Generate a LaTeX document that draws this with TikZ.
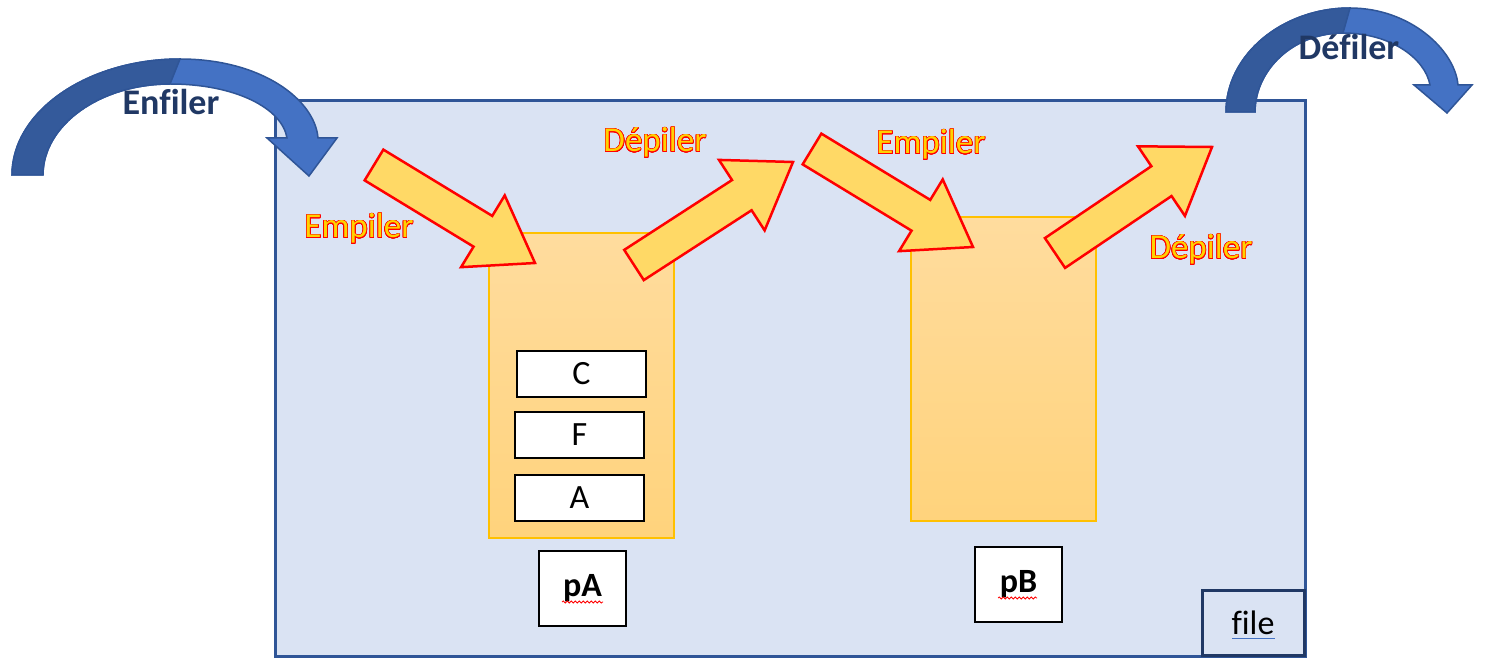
\documentclass[tikz,border=0pt]{standalone}
\usepackage{fontspec}
\setmainfont[Ligatures=NoCommon]{Carlito}
\usepackage{contour}
\usetikzlibrary{calc,decorations.pathmorphing}

\definecolor{fondfile}{HTML}{DAE3F3}
\definecolor{bordfile}{HTML}{2F5597}
\definecolor{bordnom}{HTML}{203864}
\definecolor{pilehaut}{HTML}{FFDC9E}
\definecolor{pilebas}{HTML}{FFD37C}
\definecolor{pilebord}{HTML}{FFC000}
\definecolor{bleuclair}{HTML}{4472C4}
\definecolor{bleufonce}{HTML}{345A9B}
\definecolor{flechefond}{HTML}{FFD966}
\definecolor{etiqfond}{HTML}{FFD200}
\definecolor{marine}{HTML}{203864}

\contourlength{0.6pt}
\contournumber{24}
\newcommand{\etiq}[1]{{\color{etiqfond}\contour{red}{#1}}}

% grosse fleche pleine de (#1) vers (#2)
\newcommand{\fleche}[2]{%
\coordinate (#2-c) at ($(#2)!61pt!(#1)$);
\draw[bloc] ($(#1)!18pt!90:(#2)$) -- ($(#2-c)!18pt!90:(#2)$) -- ($(#2-c)!42pt!90:(#2)$) -- (#2)
  -- ($(#2-c)!42pt!-90:(#2)$) -- ($(#2-c)!18pt!-90:(#2)$) -- ($(#1)!18pt!-90:(#2)$) -- cycle;}

\begin{document}
\begin{tikzpicture}[x=1pt, y=-1pt,
  boite/.style={draw=bordfile, line width=3pt, fill=fondfile, inner sep=0pt},
  pile/.style={draw=pilebord, line width=2pt, top color=pilehaut, bottom color=pilebas, minimum width=185pt, minimum height=305pt},
  case/.style={draw, line width=2pt, fill=white, minimum width=129pt, minimum height=46pt, font=\fontsize{34}{40}\selectfont},
  nom/.style={draw, line width=2pt, fill=white, minimum width=87pt, minimum height=75pt, font=\fontsize{34}{40}\selectfont\bfseries},
  bloc/.style={draw=red, line width=2.5pt, fill=flechefond, line join=miter},
  courbe/.style={draw=bordfile, line width=1.5pt, fill=bleuclair},
  titre/.style={anchor=base, text=marine, font=\fontsize{36}{40}\selectfont\bfseries},
  action/.style={anchor=base, font=\fontsize{35}{40}\selectfont},
  souligne/.style={decorate, decoration={snake, amplitude=1pt, segment length=4pt}, red, line width=0.8pt}]
\useasboundingbox (0,0) rectangle (1486,660);

\node[boite, minimum width=1030pt, minimum height=555pt] (boitefile) at (790,378.5) {};

% enfiler
\draw[courbe] (12,175) .. controls (12,111) and (88,59) .. (180,59) .. controls (262,59) and (315,100) .. (318,138)
  -- (337,138) -- (309,176) -- (267,138) -- (287,138) .. controls (282,108) and (235,84) .. (170,84)
  .. controls (100,84) and (43,125) .. (43,175) -- cycle;
\draw[courbe, fill=bleufonce] (12,175) .. controls (12,111) and (88,59) .. (180,59) -- (170,84)
  .. controls (100,84) and (43,125) .. (43,175) -- cycle;
\node[titre] (enfiler) at (171,115) {Enfiler};

% defiler
\draw[courbe] (1226,112) .. controls (1226,55) and (1282,8) .. (1350,8) .. controls (1410,8) and (1455,50) .. (1458,85)
  -- (1472,85) -- (1447,113) -- (1414,85) -- (1430,85) .. controls (1425,58) and (1390,33) .. (1343,33)
  .. controls (1293,33) and (1255,70) .. (1255,112) -- cycle;
\draw[courbe, fill=bleufonce] (1226,112) .. controls (1226,55) and (1282,8) .. (1350,8) -- (1343,33)
  .. controls (1293,33) and (1255,70) .. (1255,112) -- cycle;
\node[titre] (defiler) at (1349,60) {Défiler};

% les deux piles
\node[pile] (pileA) at (581.5,385.5) {};
\node[pile, minimum height=304pt] (pileB) at (1003.5,369) {};

\foreach \n/\x/\y/\t in {c/581.5/374/C, f/579.5/435/F, a/579.5/498/A}
{
    \node[case] (\n) at (\x,\y) {\t};
}

\node[nom] (pA) at (582.5,588.5) {pA};
\node[nom] (pB) at (1018.5,584.5) {pB};
\draw[souligne] (562,602)--(603,602);
\draw[souligne] (998,598)--(1037,598);

\node[draw=bordnom, line width=3pt, minimum width=102pt, minimum height=65pt, font=\fontsize{34}{40}\selectfont] (nomfile) at (1253,622.5) {file};
\draw[bleuclair, line width=1pt] (1232,638)--(1275,638);

% empiler / depiler
\foreach \n/\xa/\ya/\xb/\yb in {1/374/165/535/263, 2/634/265/793/162, 3/812/149/973/247, 4/1055/253/1212/147}
{
    \coordinate (queue\n) at (\xa,\ya);
    \coordinate (tete\n) at (\xb,\yb);
    \fleche{queue\n}{tete\n}
}

\node[action] (empA) at (359,238) {\etiq{Empiler}};
\node[action] (depA) at (655,152) {\etiq{Dépiler}};
\node[action] (empB) at (931,154) {\etiq{Empiler}};
\node[action] (depB) at (1201,259) {\etiq{Dépiler}};

\end{tikzpicture}
\end{document}
